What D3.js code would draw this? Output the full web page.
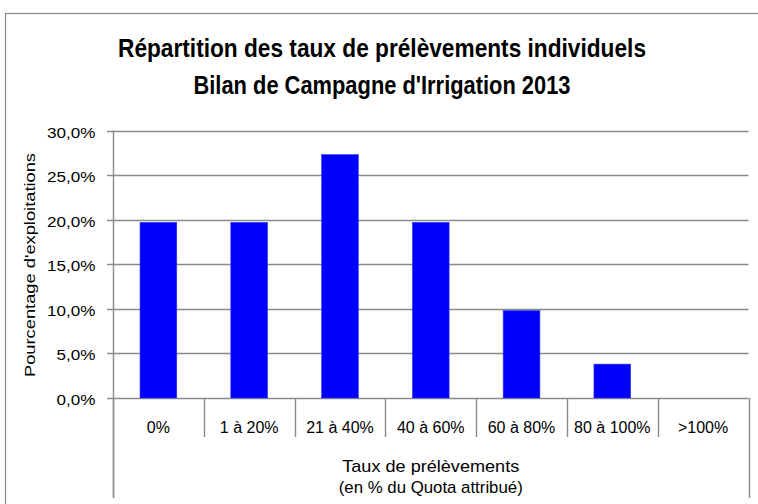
<!DOCTYPE html>
<html><head><meta charset="utf-8">
<script src="https://cdn.jsdelivr.net/npm/d3@7"></script>
<style>
html,body{margin:0;padding:0;background:#fff;}
svg{display:block;}
text{font-family:"Liberation Sans","Arial",sans-serif;fill:#000;}
</style></head>
<body><svg id="c" width="758" height="504"></svg>
<script>
const categories = ["0%", "1 à 20%", "21 à 40%", "40 à 60%", "60 à 80%", "80 à 100%", ">100%"];
const values = [0.197, 0.197, 0.273, 0.197, 0.098, 0.038, 0];
const yTicks = [0, 0.05, 0.10, 0.15, 0.20, 0.25, 0.30];
const titleLines = ["Répartition des taux de prélèvements individuels", "Bilan de Campagne d'Irrigation 2013"];
const yTitle = "Pourcentage d'exploitations";
const xTitleLines = ["Taux de prélèvements", "(en % du Quota attribué)"];

const svg = d3.select("#c");
const L = 113, R = 748.5, T = 130.5, B = 398;
const grid = "#8a8a8a";

function stretch(sel, f) {
  sel.each(function(){ const w = this.getComputedTextLength(); d3.select(this).attr("textLength", w * f).attr("lengthAdjust", "spacingAndGlyphs"); });
}

// chart border
svg.append("rect").attr("x", 5.5).attr("y", 13.5).attr("width", 800).attr("height", 600)
  .attr("fill", "#fff").attr("stroke", "#878787").attr("stroke-width", 1.2);

const x = d3.scaleBand().domain(categories).range([L, R]).padding(0);
const y = d3.scaleLinear().domain([0, 0.3]).range([B, T]);
const fmt = v => d3.format(".1f")(v * 100).replace(".", ",") + "%";

// gridlines
svg.append("g").selectAll("line").data(yTicks).join("line")
  .attr("x1", L - 6).attr("x2", R).attr("y1", d => Math.round(y(d)) + 0.5).attr("y2", d => Math.round(y(d)) + 0.5)
  .attr("stroke", grid).attr("stroke-width", 1.4);

// y tick labels
svg.append("g").selectAll("text").data(yTicks).join("text")
  .attr("x", 95.5).attr("y", d => y(d) + 7).attr("text-anchor", "end")
  .style("font-size", "15px").text(fmt)
  .call(stretch, 1.14);

// bars
const bw = x.bandwidth() * 0.405;
svg.append("g").selectAll("rect").data(values).join("rect")
  .attr("x", (d, i) => x(categories[i]) + (x.bandwidth() - bw) / 2)
  .attr("width", bw)
  .attr("y", d => y(d)).attr("height", d => B - y(d))
  .attr("fill", "#0000ff").attr("stroke", "#3a3ae6").attr("stroke-width", 0.6);

// category dividers
const bounds = categories.map(c => x(c)).concat([x(categories[categories.length - 1]) + x.bandwidth()]);
svg.append("g").selectAll("line").data(bounds).join("line")
  .attr("x1", d => Math.round(d) + 0.5).attr("x2", d => Math.round(d) + 0.5)
  .attr("y1", B).attr("y2", (d, i) => (i === 0 || i === bounds.length - 1) ? 498 : 437)
  .attr("stroke", grid).attr("stroke-width", 1.4);
// y axis line
svg.append("line").attr("x1", L + 0.5).attr("x2", L + 0.5).attr("y1", T).attr("y2", 498)
  .attr("stroke", grid).attr("stroke-width", 1.4);

// x labels
svg.append("g").selectAll("text").data(categories).join("text")
  .attr("x", d => x(d) + x.bandwidth() / 2).attr("y", 433).attr("text-anchor", "middle")
  .style("font-size", "16px").text(d => d);

// x title
const xtW = [177, 184];
svg.append("g").selectAll("text").data(xTitleLines).join("text")
  .attr("x", (L + R) / 2).attr("y", (d, i) => 471.5 + i * 21.5).attr("text-anchor", "middle")
  .style("font-size", "17px").text(d => d)
  .attr("textLength", (d, i) => xtW[i]).attr("lengthAdjust", "spacingAndGlyphs");

// y title
svg.append("text").attr("transform", "translate(35,265) rotate(-90)").attr("text-anchor", "middle")
  .style("font-size", "15px").text(yTitle)
  .attr("textLength", 224).attr("lengthAdjust", "spacingAndGlyphs");

// title
const titleW = [528, 377];
svg.append("g").selectAll("text").data(titleLines).join("text")
  .attr("x", 382).attr("y", (d, i) => 57 + i * 37).attr("text-anchor", "middle")
  .style("font-size", "26px").style("font-weight", "bold")
  .style("font-family", "'Liberation Sans Narrow','Liberation Sans',sans-serif")
  .text(d => d)
  .attr("textLength", (d, i) => titleW[i]).attr("lengthAdjust", "spacingAndGlyphs");
</script></body></html>
